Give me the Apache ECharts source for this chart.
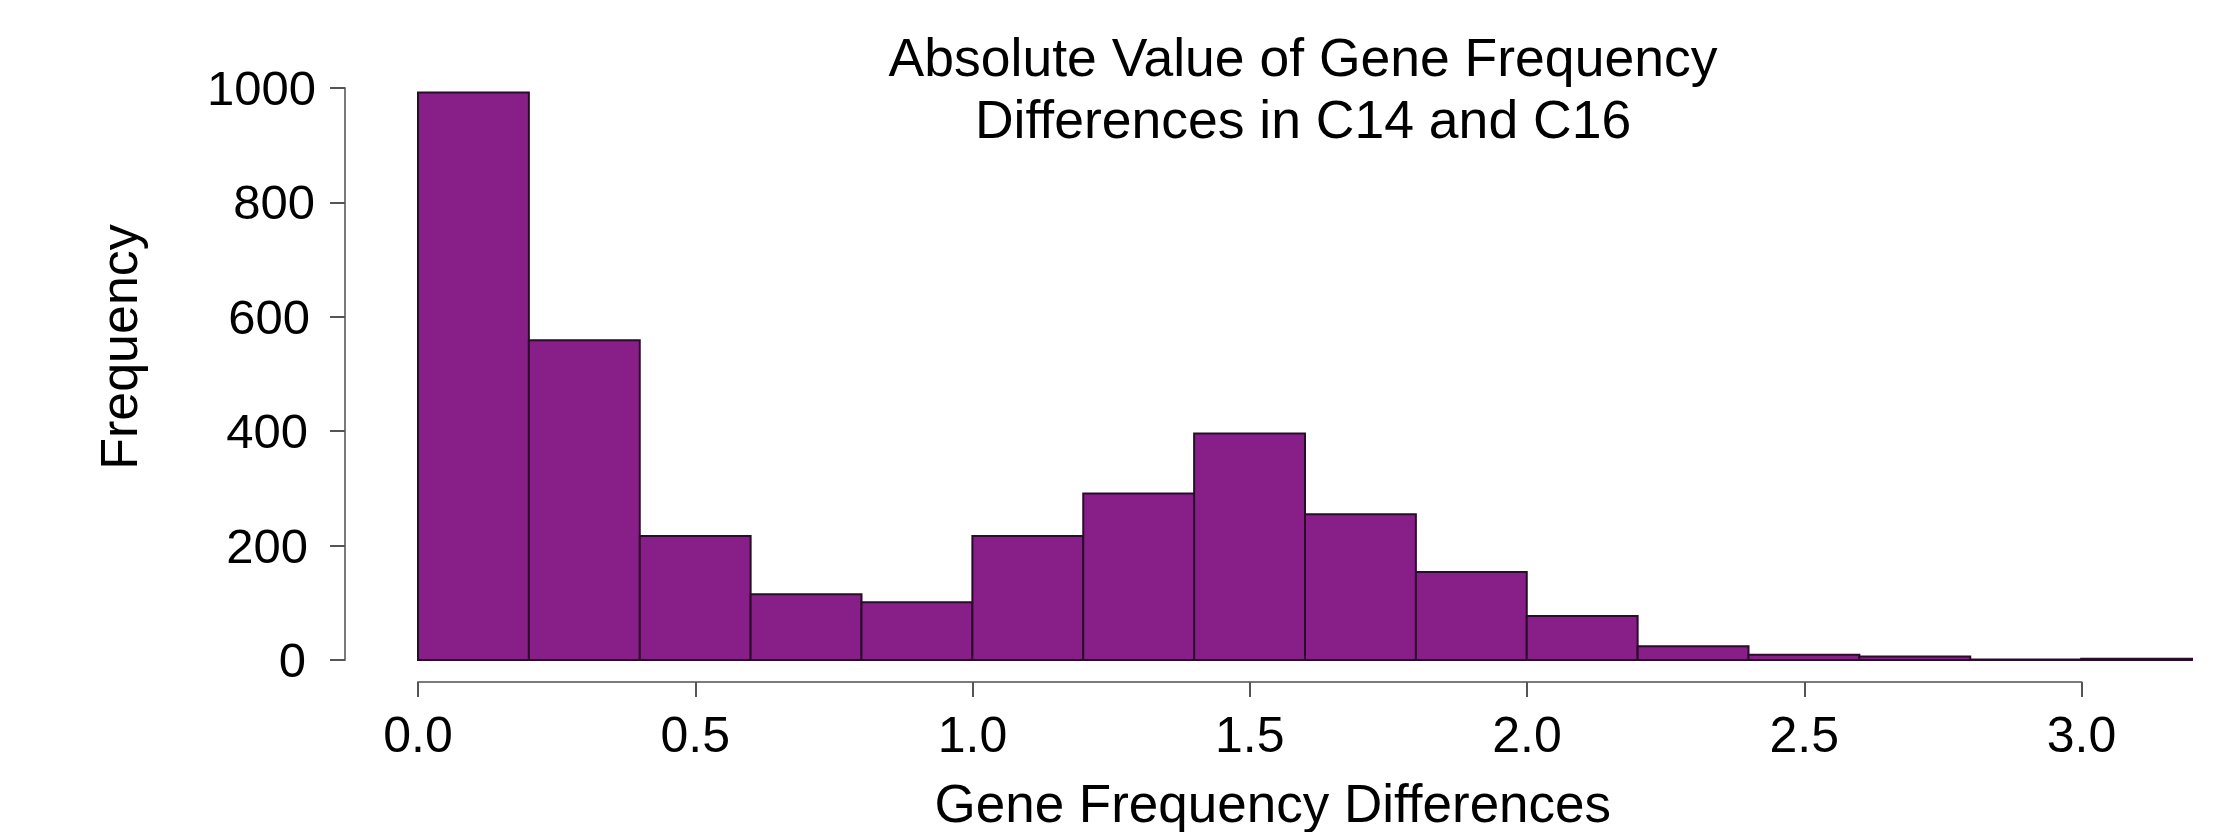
<!DOCTYPE html>
<html>
<head>
<meta charset="utf-8">
<script src="https://cdn.jsdelivr.net/npm/echarts@6/dist/echarts.min.js"></script>
<style>
  html, body { margin: 0; padding: 0; background: #ffffff; }
  #chart { width: 2229px; height: 832px; }
</style>
</head>
<body>
<div id="chart"></div>
<script>
// ---- data ----
const binEdges = [0.0, 0.2, 0.4, 0.6, 0.8, 1.0, 1.2, 1.4, 1.6, 1.8, 2.0, 2.2, 2.4, 2.6, 2.8, 3.0, 3.2];
const counts   = [992, 559, 217, 115, 101, 217, 291, 396, 255, 154, 77, 24, 9, 6, 1, 2];
const xTicks   = [0.0, 0.5, 1.0, 1.5, 2.0, 2.5, 3.0];
const yTicks   = [0, 200, 400, 600, 800, 1000];
const titleText = 'Absolute Value of Gene Frequency\nDifferences in C14 and C16';
const xName = 'Gene Frequency Differences';
const yName = 'Frequency';

const seriesData = counts.map((c, i) => [binEdges[i], binEdges[i + 1], c]);

const FONT = "'Liberation Sans', Arial, Helvetica, sans-serif";
const AXIS_COLOR = '#7a7a7a';

// slight ragged right edges of the y tick labels, as in the original figure
const yLabelRich = {
  r0:    { padding: [0, 10, 0, 0] },
  r200:  { padding: [0, 8, 0, 0] },
  r400:  { padding: [0, 8, 0, 0] },
  r600:  { padding: [0, 6, 0, 0] },
  r800:  { padding: [0, 1, 0, 0] },
  r1000: { padding: [0, 0, 0, 0] }
};

const chart = echarts.init(document.getElementById('chart'), null, { renderer: 'svg' });
chart.setOption({
  backgroundColor: '#ffffff',
  animation: false,
  title: {
    text: titleText,
    left: 1303,
    top: 26,
    padding: 0,
    textAlign: 'center',
    textStyle: { fontFamily: FONT, fontSize: 53.5, fontWeight: 'normal', color: '#000', lineHeight: 62 }
  },
  grid: [
    { left: 418, right: 37, top: 88, bottom: 172 },          // data area
    { left: 418, width: 1663.5, top: 600, bottom: 150 },     // x axis display (0..3.0)
    { left: 345, width: 10, top: 88, bottom: 172 }           // y axis display (0..1000)
  ],
  xAxis: [
    { gridIndex: 0, type: 'value', min: 0, max: 3.2, show: false },
    {
      gridIndex: 1, type: 'value', min: 0, max: 3.0, interval: 0.5,
      position: 'bottom',
      axisLine: { show: true, onZero: false, lineStyle: { color: AXIS_COLOR, width: 2 } },
      axisTick: { show: true, length: 15, lineStyle: { color: '#555', width: 2 } },
      splitLine: { show: false },
      axisLabel: {
        margin: 28, fontFamily: FONT, fontSize: 50, color: '#000',
        formatter: v => (xTicks.indexOf(v) >= 0 ? v.toFixed(1) : '')
      },
      name: xName, nameLocation: 'middle', nameGap: 95,
      nameTextStyle: { fontFamily: FONT, fontSize: 53, color: '#000', padding: [0, 0, 0, 46] }
    },
    { gridIndex: 2, type: 'value', min: 0, max: 1, show: false }
  ],
  yAxis: [
    { gridIndex: 0, type: 'value', min: 0, max: 1000, show: false },
    { gridIndex: 1, type: 'value', min: 0, max: 1, show: false },
    {
      gridIndex: 2, type: 'value', min: 0, max: 1000, interval: 200,
      position: 'left',
      axisLine: { show: true, onZero: false, lineStyle: { color: AXIS_COLOR, width: 2 } },
      axisTick: { show: true, length: 15, lineStyle: { color: '#555', width: 2 } },
      splitLine: { show: false },
      axisLabel: {
        margin: 29, fontFamily: FONT, fontSize: 49, color: '#000',
        formatter: v => (yTicks.indexOf(v) >= 0 ? '{r' + v + '|' + v + '}' : ''),
        rich: yLabelRich
      },
      name: yName, nameLocation: 'middle', nameGap: 200, nameRotate: 90,
      nameTextStyle: { fontFamily: FONT, fontSize: 52, color: '#000', padding: [0, 0, 0, 54] }
    }
  ],
  series: [{
    type: 'custom',
    xAxisIndex: 0,
    yAxisIndex: 0,
    data: seriesData,
    encode: { x: [0, 1], y: 2 },
    renderItem: function (params, api) {
      const p0 = api.coord([api.value(0), api.value(2)]);
      const p1 = api.coord([api.value(1), 0]);
      return {
        type: 'rect',
        shape: { x: p0[0], y: p0[1], width: p1[0] - p0[0], height: p1[1] - p0[1] },
        style: { fill: '#881e88', stroke: '#2a0c2a', lineWidth: 2 }
      };
    }
  }]
});
</script>
</body>
</html>
